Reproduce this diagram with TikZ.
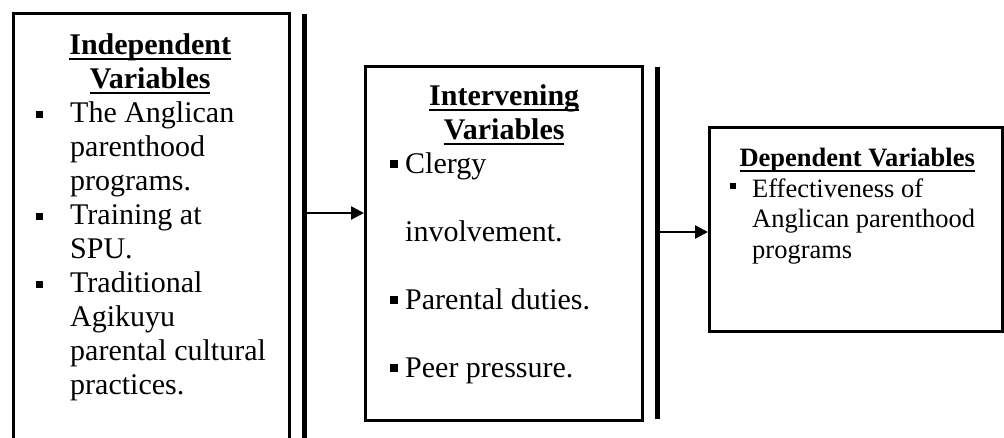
\documentclass[tikz,border=0pt]{standalone}
\usepackage{fontspec}
\setmainfont{Liberation Serif}
\usetikzlibrary{arrows.meta}

\newsavebox{\hdbox}
% underlined bold heading line (rule crosses the descenders, as in Word)
\newcommand{\hdul}[1]{\sbox{\hdbox}{\bfseries #1}\rlap{\rule[-5pt]{\wd\hdbox}{2.2pt}}\usebox{\hdbox}}
% square bullet: #1 indent, #2 raise, #3 size
\newcommand{\sqmark}[3]{\makebox[#1][l]{\rule[#2]{#3}{#3}}}

\begin{document}
\begin{tikzpicture}[x=1pt,y=-1pt,>={Triangle[length=13pt,width=13pt]},
	varbox/.style={draw,line width=3pt,inner sep=0pt,outer sep=0pt},
	bar/.style={line width=5pt},
	flow/.style={->,line width=2.5pt,shorten >=1.5pt},
	txt/.style={anchor=base west,inner sep=0pt}]
	
	\useasboundingbox (0,0) rectangle (1004,438);
	\clip (0,0) rectangle (1004,438);
	
	\node[varbox,minimum width=275.5pt,minimum height=446.5pt] (indep) at (151.25,236.75) {};
	\node[varbox,minimum width=276.5pt,minimum height=353.5pt] (interv) at (503.75,243.25) {};
	\node[varbox,minimum width=293pt,minimum height=204pt] (dep) at (856,230) {};
	
	\node[txt,font=\fontsize{30}{34}\selectfont] (indeptext) at (36,55) {\parbox[t]{240pt}{%
		\makebox[228pt]{\hdul{Independent}}\\
		\makebox[228pt]{\hdul{Variables}}\\
		\sqmark{34pt}{5pt}{7pt}The Anglican\\
		\hspace*{34pt}parenthood\\
		\hspace*{34pt}programs.\\
		\sqmark{34pt}{5pt}{7pt}Training at\\
		\hspace*{34pt}SPU.\\
		\sqmark{34pt}{5pt}{7pt}Traditional\\
		\hspace*{34pt}Agikuyu\\
		\hspace*{34pt}parental cultural\\
		\hspace*{34pt}practices.}};
	
	\node[txt,font=\fontsize{30}{34}\selectfont] (intervtext) at (390,106) {\parbox[t]{245pt}{%
		\makebox[228pt]{\hdul{Intervening}}\\
		\makebox[228pt]{\hdul{Variables}}\\
		\sqmark{15pt}{6pt}{7.5pt}Clergy\\[34pt]
		\hspace*{15pt}involvement.\\[34pt]
		\sqmark{15pt}{6pt}{7.5pt}Parental duties.\\[34pt]
		\sqmark{15pt}{6pt}{7.5pt}Peer pressure.}};
	
	\node[txt,font=\fontsize{26.5}{30.5}\selectfont] (deptext) at (730,167) {\parbox[t]{265pt}{%
		\makebox[254pt]{\hdul{Dependent Variables}}\\
		\sqmark{22pt}{8pt}{6pt}Effectiveness of\\
		\hspace*{22pt}Anglican parenthood\\
		\hspace*{22pt}programs}};
	
	% separating bars
	\coordinate (bar1top) at (304.5,14);
	\coordinate (bar1bot) at (304.5,440);
	\draw[bar] (bar1top) -- (bar1bot);
	\coordinate (bar2top) at (657.5,67);
	\coordinate (bar2bot) at (657.5,418.5);
	\draw[bar] (bar2top) -- (bar2bot);
	
	\coordinate (arr1) at (304.5,213);
	\draw[flow] (arr1) -- (arr1 -| interv.west);
	\coordinate (arr2) at (657.5,232);
	\draw[flow] (arr2) -- (arr2 -| dep.west);
\end{tikzpicture}
\end{document}
